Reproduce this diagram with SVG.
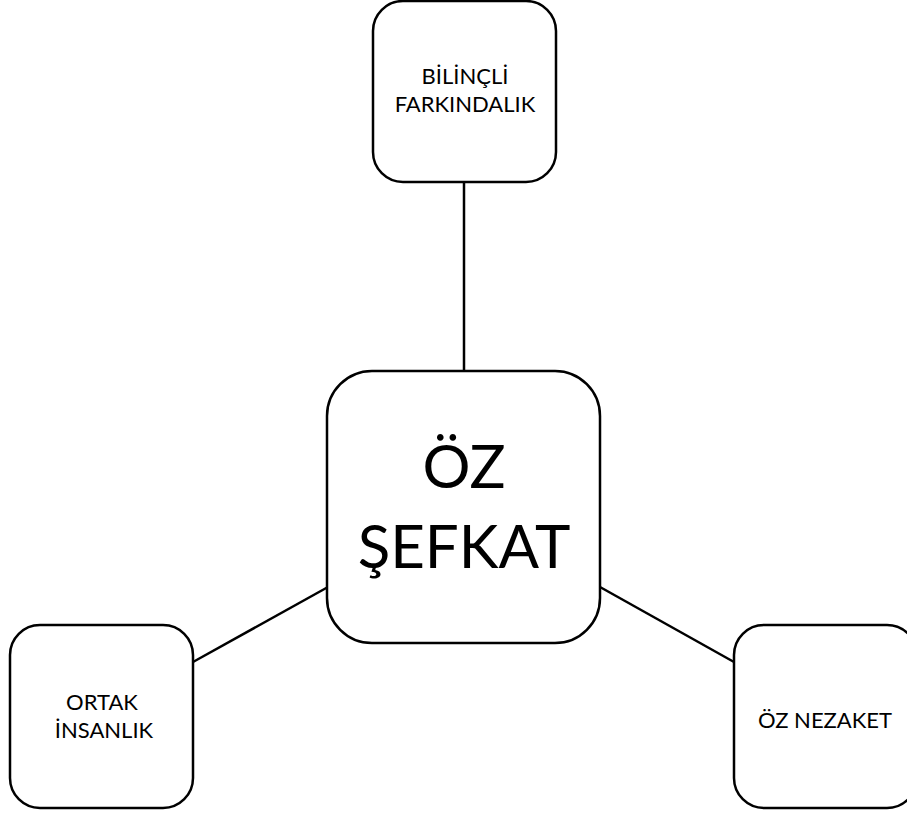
<svg xmlns="http://www.w3.org/2000/svg" width="907" height="814" viewBox="0 0 907 814">
<style>
.box{fill:#fff;stroke:#000;stroke-width:2.5}
.ln{stroke:#000;stroke-width:2.5;fill:none}
.t{font-family:Lato,"Open Sans","Liberation Sans",sans-serif;font-size:22px;fill:#000;text-anchor:middle}
.big{font-family:Lato,"Open Sans","Liberation Sans",sans-serif;font-size:60px;fill:#000;text-anchor:middle}
</style>
<rect width="907" height="814" fill="#fff"/>
<g id="connectors">
<line class="ln" x1="464" y1="182" x2="464" y2="371"/>
<line class="ln" x1="193" y1="662" x2="328" y2="587"/>
<line class="ln" x1="600" y1="587" x2="734" y2="662"/>
</g>
<g id="bilincli-farkindalik">
<rect class="box" x="373" y="1" width="183" height="181" rx="30"/>
<text class="t" x="465" y="84">BİLİNÇLİ</text>
<text class="t" x="465" y="111.5">FARKINDALIK</text>
</g>
<g id="oz-sefkat">
<rect class="box" x="327" y="371" width="273" height="272" rx="45"/>
<text class="big" x="464" y="488">ÖZ</text>
<text class="big" x="464" y="568">ŞEFKAT</text>
</g>
<g id="ortak-insanlik">
<rect class="box" x="10" y="625" width="183" height="183" rx="30"/>
<text class="t" x="102" y="710">ORTAK</text>
<text class="t" x="104" y="738">İNSANLIK</text>
</g>
<g id="oz-nezaket">
<rect class="box" x="734" y="625" width="183" height="183" rx="30"/>
<text class="t" x="825" y="728">ÖZ NEZAKET</text>
</g>
</svg>
